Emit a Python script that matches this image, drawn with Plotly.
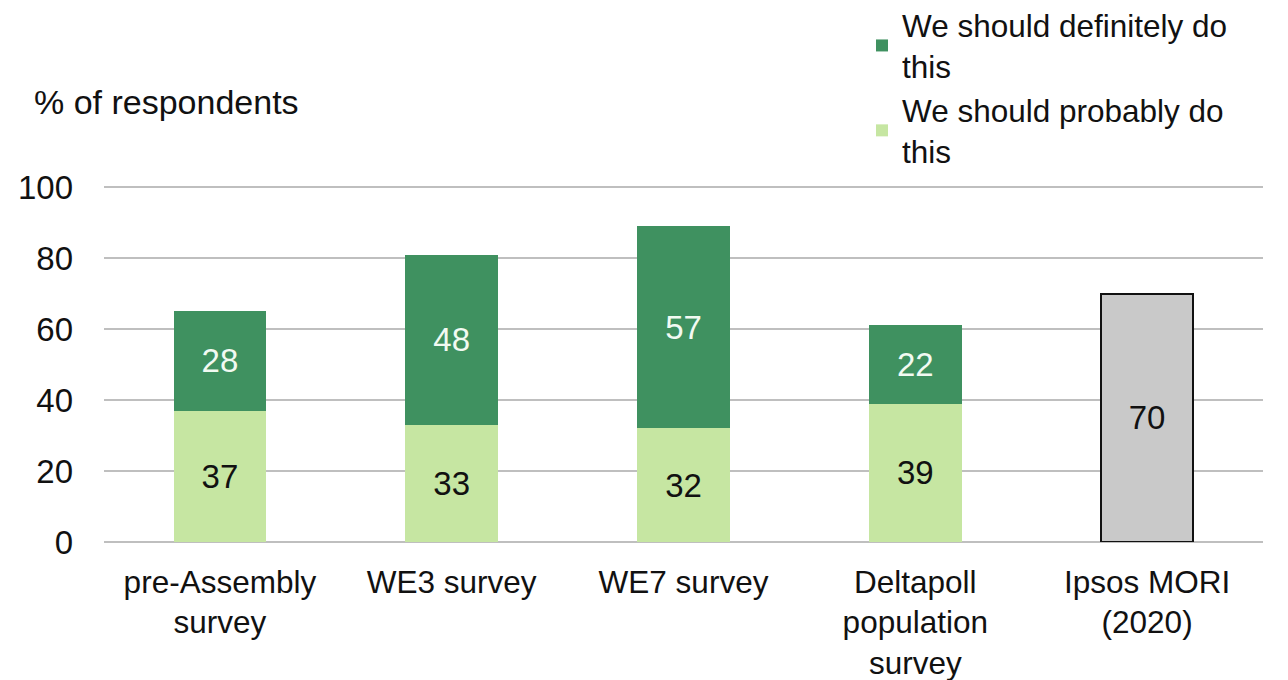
import plotly.graph_objects as go

categories = ["pre-Assembly<br>survey", "WE3 survey", "WE7 survey",
              "Deltapoll<br>population<br>survey", "Ipsos MORI<br>(2020)"]
probably = [37, 33, 32, 39, None]
definitely = [28, 48, 57, 22, None]
ipsos = [None, None, None, None, 70]
y_ticks = [0, 20, 40, 60, 80, 100]

FONT = "Liberation Sans, Arial, sans-serif"
FS = 33
FS_TXT = 34
FS_WRAP = 31.5
DARK = "#3F9160"
LIGHT = "#C6E6A2"
GREY = "#C9C9C9"

# the page adds an 8px body margin; the figure is sized to fit inside the window
W, H = 1280, 672
PLOT_TOP, PLOT_H = 178, 356

def labels(vals):
    return [str(v) if v is not None else "" for v in vals]

fig = go.Figure()
fig.add_trace(go.Bar(
    x=categories, y=probably, name="We should probably do<br>this",
    marker=dict(color=LIGHT, line=dict(width=0)),
    text=labels(probably), textposition="inside", insidetextanchor="middle",
    textfont=dict(size=FS, color="#111111", family=FONT), constraintext="none",
    width=0.4,
))
fig.add_trace(go.Bar(
    x=categories, y=definitely, name="We should definitely do<br>this",
    marker=dict(color=DARK, line=dict(width=0)),
    text=labels(definitely), textposition="inside", insidetextanchor="middle",
    textfont=dict(size=FS, color="#F2FAF2", family=FONT), constraintext="none",
    width=0.4,
))
fig.add_trace(go.Bar(
    x=categories, y=ipsos, name="Ipsos MORI", showlegend=False,
    marker=dict(color=GREY, line=dict(width=2, color="#111111")),
    text=labels(ipsos), textposition="inside", insidetextanchor="middle",
    textfont=dict(size=FS, color="#111111", family=FONT), constraintext="none",
    width=0.4,
))

fig.update_layout(
    barmode="stack",
    width=W, height=H,
    margin=dict(l=96, r=25, t=PLOT_TOP, b=H - PLOT_TOP - PLOT_H, autoexpand=False),
    plot_bgcolor="white", paper_bgcolor="white",
    font=dict(family=FONT, size=FS, color="#111111"),
    legend=dict(
        xref="container", yref="paper",
        x=854 / W, y=(PLOT_TOP + PLOT_H + 10) / PLOT_H, xanchor="left", yanchor="top",
        traceorder="reversed", font=dict(size=FS_WRAP, family=FONT, color="#111111"),
        bgcolor="rgba(0,0,0,0)", tracegroupgap=0,
    ),
    annotations=[dict(
        text="% of respondents", xref="paper", yref="paper",
        x=(32 - 104) / 1159, y=(542 - 102) / 356, xanchor="left", yanchor="middle",
        showarrow=False, font=dict(size=FS_TXT, family=FONT, color="#111111"),
    )],
)
fig.update_yaxes(
    range=[0, 100.3], tickvals=y_ticks, showgrid=True, gridcolor="#BFBFBF", gridwidth=2,
    zeroline=True, zerolinecolor="#BFBFBF", zerolinewidth=2, showline=False,
    tickfont=dict(size=FS, family=FONT, color="#111111"), ticks="", ticklabelstandoff=30,
    automargin=False,
)
fig.update_xaxes(
    showline=False, ticks="", tickfont=dict(size=FS_WRAP, family=FONT, color="#111111"),
    ticklabelstandoff=18, tickangle=0, automargin=False,
)

fig.write_html("out.html")
